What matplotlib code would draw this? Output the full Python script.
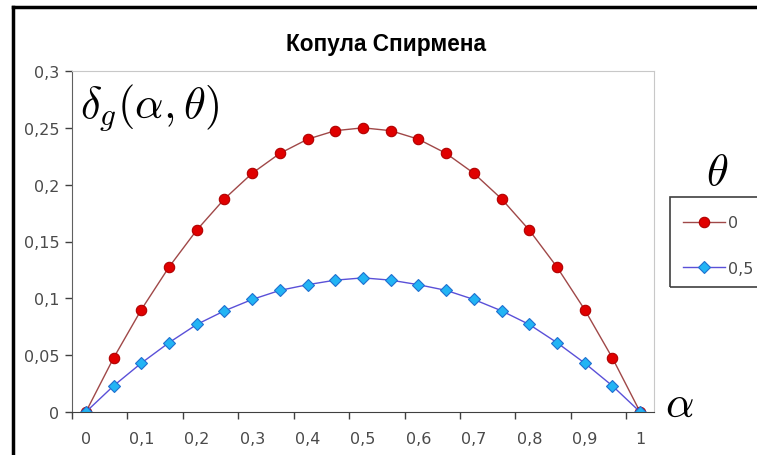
import matplotlib
matplotlib.use("Agg")
import matplotlib.pyplot as plt
from matplotlib.lines import Line2D
from matplotlib.patches import Rectangle

plt.rcParams['mathtext.fontset'] = 'cm'

# data
alpha = [0, 0.05, 0.1, 0.15, 0.2, 0.25, 0.3, 0.35, 0.4, 0.45, 0.5,
         0.55, 0.6, 0.65, 0.7, 0.75, 0.8, 0.85, 0.9, 0.95, 1]
theta0 = [0, 0.0475, 0.09, 0.1275, 0.16, 0.1875, 0.21, 0.2275, 0.24, 0.2475, 0.25,
          0.2475, 0.24, 0.2275, 0.21, 0.1875, 0.16, 0.1275, 0.09, 0.0475, 0]
theta05 = [0, 0.023, 0.043, 0.061, 0.077, 0.089, 0.099, 0.107, 0.112, 0.116, 0.118,
           0.116, 0.112, 0.107, 0.099, 0.089, 0.077, 0.061, 0.043, 0.023, 0]
xticks = [0, 0.1, 0.2, 0.3, 0.4, 0.5, 0.6, 0.7, 0.8, 0.9, 1]
yticks = [0, 0.05, 0.1, 0.15, 0.2, 0.25, 0.3]
legend_labels = ["0", "0,5"]
title = "Копула Спирмена"

W, H = 757, 456
fig = plt.figure(figsize=(W / 100, H / 100), dpi=100)

def fx(px):
    return px / W

def fy(py):
    return 1 - py / H

ax = fig.add_axes([fx(72), fy(413), fx(654) - fx(72), fy(72) - fy(413)])

l1, = ax.plot(alpha, theta0, color="#a04848", lw=1, marker="o", ms=7.5,
              mfc="#e00000", mec="#b00000", mew=0.8)
l2, = ax.plot(alpha, theta05, color="#5a50d8", lw=1, marker="D", ms=6.5,
              mfc="#22b4f4", mec="#2070d0", mew=0.8)

ax.set_xlim(-0.025, 1.025)
ax.set_ylim(0, 0.3)

def comma(v):
    s = ("%.2f" % v).rstrip("0").rstrip(".")
    return s.replace(".", ",")

ax.set_xticks(xticks)
ax.set_xticklabels([comma(v) for v in xticks])
ax.set_xticks([v - 0.025 for v in xticks], minor=True)
ax.set_yticks(yticks)
ax.set_yticklabels([comma(v) for v in yticks])
ax.tick_params(axis="x", which="major", length=0, pad=14, labelsize=11.5, labelcolor="#4a4a4a")
ax.tick_params(axis="x", which="minor", length=5, color="#404040", width=1)
ax.tick_params(axis="y", length=5, color="#404040", width=1, pad=4, labelsize=11.5,
               labelcolor="#4a4a4a")

for s in ["top", "right"]:
    ax.spines[s].set_color("#c8c8c8")
ax.spines["left"].set_color("#606060")
ax.spines["bottom"].set_color("#404040")

fig.text(0.51, fy(45), title, ha="center", va="center", fontsize=16.3,
         fontweight="bold", family="Liberation Sans")

fig.text(fx(80), fy(108), r"$\delta_g(\alpha,\theta)$", ha="left", va="center", fontsize=32)
fig.text(fx(717), fy(172), r"$\theta$", ha="center", va="center", fontsize=32)
fig.text(fx(679), fy(404), r"$\alpha$", ha="center", va="center", fontsize=32)

# legend box runs off the right edge like in the original
fig.patches.append(Rectangle((fx(670), fy(288)), fx(120), fy(198) - fy(288),
                             transform=fig.transFigure, fill=False,
                             edgecolor="#404040", lw=1.2))
fig.legend([l1, l2], legend_labels, loc="upper left",
           bbox_to_anchor=(fx(677), fy(210)), frameon=False, fontsize=11.5,
           handlelength=2.6, labelspacing=1.9, handletextpad=0.2,
           borderaxespad=0, labelcolor="#4a4a4a")

# black frame of the chart (left and top edges visible)
fig.lines.append(Line2D([fx(13), fx(13)], [fy(8), 0], transform=fig.transFigure,
                        color="black", lw=2.5))
fig.lines.append(Line2D([fx(13), 1], [fy(8), fy(8)], transform=fig.transFigure,
                        color="black", lw=2.5))

fig.savefig("out.png", dpi=100)
